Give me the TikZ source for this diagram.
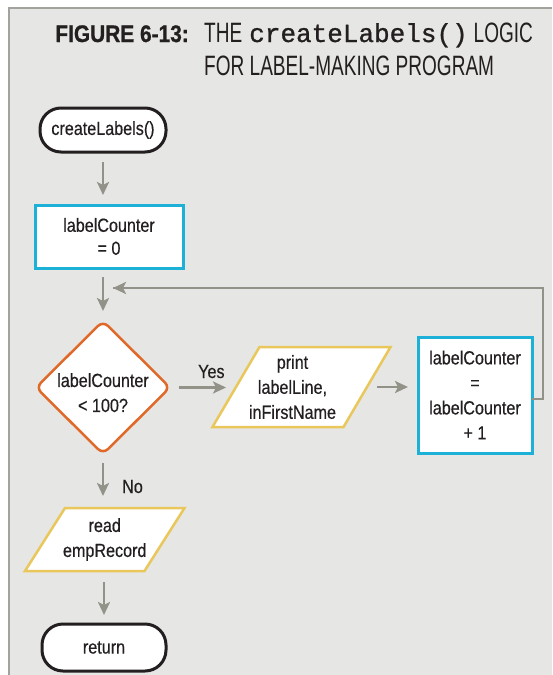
\documentclass[tikz,border=0pt]{standalone}
\usepackage{fontspec}
\setmainfont{Liberation Sans}[FakeStretch=0.85,FakeBold=0.4]
\newfontfamily\titlefont{Liberation Sans}[FakeStretch=0.68]
\newfontfamily\figfont{Liberation Sans Bold}[FakeStretch=0.87,FakeBold=0.8]
\newfontfamily\codefont{Liberation Mono}[FakeBold=1]
\usetikzlibrary{shapes.geometric,arrows.meta}
\pgfdeclarelayer{background}
\pgfdeclarelayer{shapes}
\pgfsetlayers{background,shapes,main}
\definecolor{bgfill}{RGB}{230,230,228}
\definecolor{framegray}{RGB}{163,163,158}
\definecolor{arrowgray}{RGB}{146,146,137}
\definecolor{boxcyan}{RGB}{29,177,215}
\definecolor{decorange}{RGB}{224,105,42}
\definecolor{ioyellow}{RGB}{233,199,91}
\definecolor{inkblack}{RGB}{35,31,32}
\tikzset{
  bodytext/.style={font=\fontsize{19}{25}\selectfont, text=inkblack, align=center},
  termbox/.style={bodytext, draw=inkblack, fill=white, line width=3pt, rectangle,
    rounded corners=21pt, inner sep=0pt, outer sep=0pt},
  procbox/.style={bodytext, draw=boxcyan, fill=white, line width=3pt, rectangle,
    inner sep=0pt, outer sep=0pt},
  decbox/.style={draw=decorange, fill=white, line width=2.5pt, diamond, aspect=1,
    rounded corners=7pt, inner sep=0pt, outer sep=0pt},
  iobox/.style={bodytext, rectangle, inner sep=0pt, outer sep=0pt},
  ioshape/.style={draw=ioyellow, fill=white, line width=2.5pt, line join=miter},
  flow/.style={draw=arrowgray, line width=2.5pt,
    -{Stealth[length=13pt,width=12pt,inset=3pt]}},
  loopline/.style={draw=arrowgray, line width=2.5pt},
  lbl/.style={font=\fontsize{19}{25}\selectfont, text=inkblack, inner sep=0pt}
}
\begin{document}
\begin{tikzpicture}[x=1pt,y=-1pt]
\useasboundingbox (0,0) rectangle (552,675);
\begin{pgfonlayer}{background}
\fill[white] (0,0) rectangle (552,675);
\fill[bgfill] (9,8) rectangle (552,675);
\draw[framegray, line width=2pt] (9,675) -- (9,8) -- (552,8);
\end{pgfonlayer}

% title
\node (figno) [anchor=base east, inner sep=0pt, text=inkblack,
  font=\figfont\fontsize{24}{28}\selectfont] at (189,42) {FIGURE 6-13:};
\node (title1) [anchor=base west, inner sep=0pt, text=inkblack,
  font=\titlefont\fontsize{28}{33}\selectfont] at (204,42)
  {THE\hspace{7pt}{\codefont\fontsize{26}{30}\selectfont createLabels()}\hspace{6pt}LOGIC};
\node (title2) [anchor=base west, inner sep=0pt, text=inkblack,
  font=\titlefont\fontsize{28}{33}\selectfont] at (204,75) {FOR LABEL-MAKING PROGRAM};

% nodes
\node (start) [termbox, minimum width=126pt, minimum height=44pt] at (103,130) {createLabels()};
\node (init) [procbox, minimum width=148pt, minimum height=63pt,
  font=\fontsize{19}{23}\selectfont] at (109,236.5) {labelCounter\\= 0};
\node (dec) [decbox, minimum width=134pt, minimum height=133pt] at (103,387.5) {};
\node (dectext) [bodytext, inner sep=0pt] at (103,392.7) {labelCounter\\< 100?};
\node (print) [iobox, minimum width=131pt, minimum height=80pt] at (292.5,387)
  {print\\labelLine,\\inFirstName};
\node (incr) [procbox, minimum width=114pt, minimum height=116pt] at (475,395)
  {labelCounter\\=\\labelCounter\\+ 1};
\node (read) [iobox, minimum width=119.5pt, minimum height=63pt] at (104.75,539.5)
  {read\\empRecord};
\node (ret) [termbox, minimum width=124pt, minimum height=47pt] at (104,647.5) {return};

\begin{pgfonlayer}{shapes}
\draw[ioshape] ([xshift=32.5pt]print.north west) -- ([xshift=32.5pt]print.north east)
  -- ([xshift=-14.5pt]print.south east) -- ([xshift=-14.5pt]print.south west) -- cycle;
\draw[ioshape] ([xshift=20pt]read.north west) -- ([xshift=20pt]read.north east)
  -- ([xshift=-20pt]read.south east) -- ([xshift=-20pt]read.south west) -- cycle;
\end{pgfonlayer}

\coordinate (printin) at ([xshift=9pt]print.west);
\coordinate (printout) at ([xshift=9pt]print.east);

\node (yes) [lbl, anchor=base west] at (198,378) {Yes};
\node (no) [lbl, anchor=base west] at (122,493) {No};

\coordinate (loopin) at (113,288);

% connectors
\draw[flow, shorten <=10pt, shorten >=10pt] (start.south) -- (start.south |- init.north);
\draw[flow, shorten <=9pt, shorten >=10pt] (dec.north |- init.south) -- (dec.north);
\draw[flow, shorten <=9pt, shorten >=10pt] (dec.east) -- (dec.east -| printin);
\draw[flow, shorten <=10pt, shorten >=10pt] (printout) -- (printout -| incr.west);
\draw[loopline] ([yshift=-4pt]incr.east) -- ++(11,0) |- (loopin);
\draw[flow] ([xshift=20pt]loopin) -- (loopin);
\draw[flow, shorten <=9pt, shorten >=12pt] (dec.south) -- (dec.south |- read.north);
\draw[flow, shorten <=11pt, shorten >=9pt] (read.south -| ret.north) -- (ret.north);
\end{tikzpicture}
\end{document}
